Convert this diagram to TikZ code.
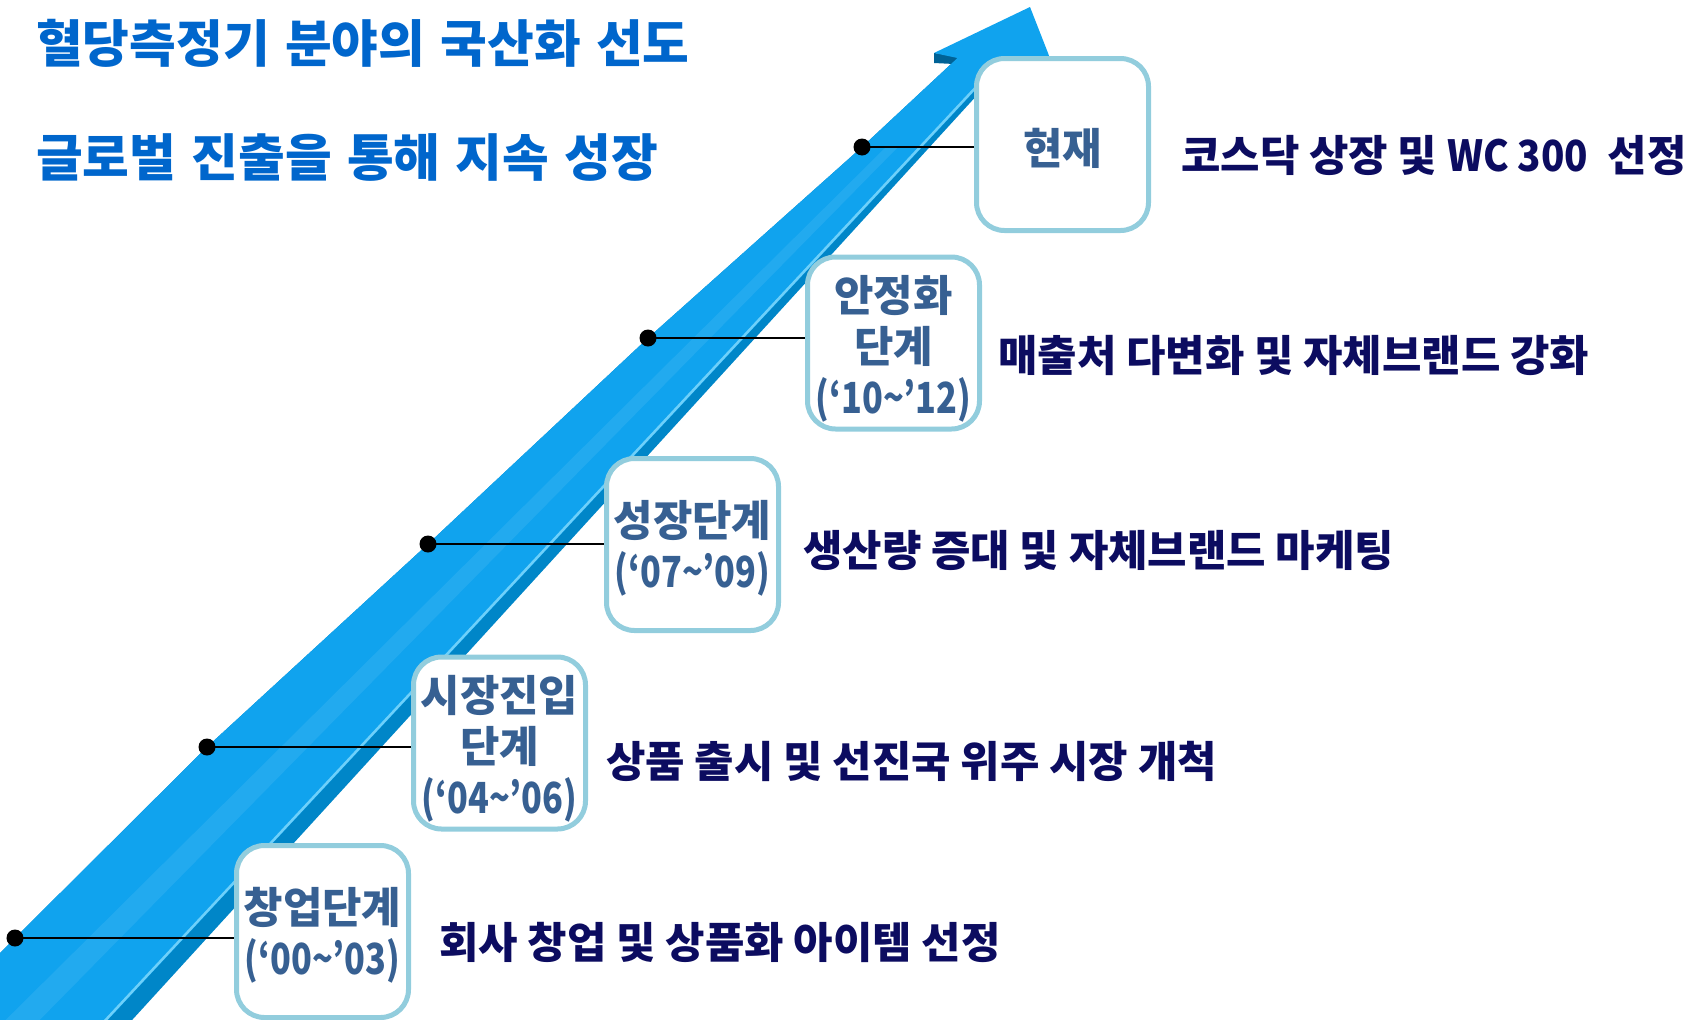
\documentclass[tikz,border=0pt]{standalone}
\usepackage{fontspec}
\newfontfamily\kr{Noto Sans CJK KR}
\newfontfamily\krn[FakeStretch=0.8]{Noto Sans CJK KR}
\definecolor{arrowface}{RGB}{16,163,238}
\definecolor{arrowdark}{RGB}{0,134,200}
\definecolor{arrowunder}{RGB}{0,98,150}
\definecolor{arrowhl}{RGB}{110,208,250}
\definecolor{boxline}{RGB}{146,205,221}
\definecolor{boxtext}{RGB}{55,96,146}
\definecolor{desctext}{RGB}{12,12,96}
\definecolor{titletext}{RGB}{0,102,204}
\newcommand{\yr}[1]{{\krn\bfseries #1}}
\tikzset{
  stagebox/.style={draw=boxline, line width=5bp, rounded corners=28bp, fill=white,
    minimum width=172bp, minimum height=172bp, inner sep=0pt},
  stagetext/.style={align=center, text=boxtext, inner sep=0pt,
    font=\fontsize{43}{51}\selectfont\kr\bfseries},
  desc/.style={anchor=west, inner sep=0pt, text=desctext,
    font=\fontsize{43}{50}\selectfont\kr\bfseries},
  headline/.style={anchor=west, inner sep=0pt, text=titletext,
    font=\fontsize{51}{60}\selectfont\kr\bfseries},
  tipdot/.style={circle, fill=black, minimum size=17bp, inner sep=0pt},
  conn/.style={draw=black, line width=2.5bp}
}
\begin{document}
\begin{tikzpicture}[x=1bp,y=-1bp]
\useasboundingbox (0,0) rectangle (1698,1019);
\begin{scope}
\clip (0,0) rectangle (1698,1019);
% arrow body (dark side)
\fill[arrowdark] (-147,1100) -- (15,938) -- (207,747) -- (428,544) -- (648,338)
  -- (862,147) -- (957.5,58) -- (1011,58) -- (59,1100) -- cycle;
% underside of left barb
\fill[arrowunder] (934,53) -- (960,56) -- (954,64) -- (934,63) -- cycle;
% arrow face
\fill[arrowface] (-147,1100) -- (15,938) -- (207,747) -- (428,544) -- (648,338)
  -- (862,147) -- (957.5,58) -- (934,53) -- (1030,7) -- (1048,53) -- (1068,110)
  -- (980,85) -- (33,1100) -- cycle;
% soft highlight band
\fill[white, opacity=0.08] (-75,1100) -- (886,147) -- (898,147) -- (-39,1100) -- cycle;
% bright edge line
\draw[arrowhl, line width=2.5bp] (31,1100) -- (978,85);

% dots
\node[tipdot] (p1) at (862,147) {};
\node[tipdot] (p2) at (648,338) {};
\node[tipdot] (p3) at (428,544) {};
\node[tipdot] (p4) at (207,747) {};
\node[tipdot] (p5) at (15,938) {};

% boxes
\node[stagebox] (b1) at (1062.5,144.5) {};
\node[stagebox] (b2) at (893.5,343) {};
\node[stagebox] (b3) at (692.5,544.5) {};
\node[stagebox] (b4) at (499.5,743) {};
\node[stagebox] (b5) at (322.5,931.5) {};

% connectors
\draw[conn] (p1.center) -- (p1.center -| b1.west);
\draw[conn] (p2.center) -- (p2.center -| b2.west);
\draw[conn] (p3.center) -- (p3.center -| b3.west);
\draw[conn] (p4.center) -- (p4.center -| b4.west);
\draw[conn] (p5.center) -- (p5.center -| b5.west);

% box texts
\node[stagetext] (s1) at ([yshift=-4bp]b1.center) {현재};
\node[stagetext] (s2) at ([yshift=-6bp]b2.center) {안정화\\단계\\\yr{(‘10\textasciitilde’12)}};
\node[stagetext] (s3) at ([yshift=-4bp]b3.center) {성장단계\\\yr{(‘07\textasciitilde’09)}};
\node[stagetext] (s4) at ([yshift=-6bp]b4.center) {시장진입\\단계\\\yr{(‘04\textasciitilde’06)}};
\node[stagetext] (s5) at ([yshift=-4bp]b5.center) {창업단계\\\yr{(‘00\textasciitilde’03)}};

% descriptions
\node[desc] (t1) at (1181,155) {코스닥 상장 및 \scalebox{0.9}[1]{WC 300}\ \ 선정};
\node[desc] (t2) at (998,355) {매출처 다변화 및 자체브랜드 강화};
\node[desc] (t3) at (803,550) {생산량 증대 및 자체브랜드 마케팅};
\node[desc] (t4) at (606,761) {상품 출시 및 선진국 위주 시장 개척};
\node[desc] (t5) at (439,942) {회사 창업 및 상품화 아이템 선정};

% headline
\node[headline] (h1) at (36,43) {혈당측정기\hspace{0.3em}분야의\hspace{0.3em}국산화\hspace{0.3em}선도};
\node[headline] (h2) at (36,157) {글로벌\hspace{0.3em}진출을\hspace{0.3em}통해\hspace{0.3em}지속\hspace{0.3em}성장};
\end{scope}
\end{tikzpicture}
\end{document}
